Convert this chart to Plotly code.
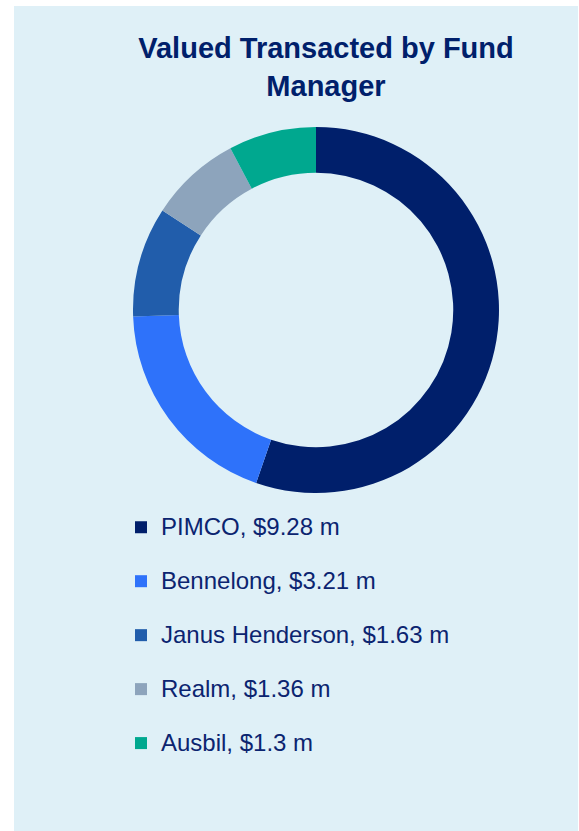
import plotly.graph_objects as go

# Data
managers = ["PIMCO", "Bennelong", "Janus Henderson", "Realm", "Ausbil"]
values_m = [9.28, 3.21, 1.63, 1.36, 1.3]
colors = ["#001F6B", "#2E72FA", "#215DAB", "#8DA4BC", "#00A88F"]
title_text = "Valued Transacted by Fund<br>Manager"

W, H = 579, 831
BG = "#DFF0F7"
NAVY = "#0B2470"

legend_labels = [
    f"<span style='font-size:24px'>{m}, ${v} m</span><br> "
    for m, v in zip(managers, values_m)
]

fig = go.Figure()
fig.add_trace(go.Pie(
    labels=legend_labels,
    values=values_m,
    marker=dict(colors=colors, line=dict(width=0)),
    hole=0.75,
    sort=False,
    direction="clockwise",
    rotation=0,
    textinfo="none",
    hoverinfo="label+value",
    domain=dict(x=[133 / W, 499 / W], y=[1 - 493 / H, 1 - 127 / H]),
))

fig.add_shape(type="rect", xref="paper", yref="paper",
              x0=14 / W, x1=578 / W, y0=0, y1=1 - 6 / H,
              fillcolor=BG, line=dict(width=0), layer="below")

fig.update_layout(
    width=W, height=H,
    margin=dict(l=0, r=0, t=0, b=0),
    paper_bgcolor="white",
    plot_bgcolor="white",
    font=dict(family="Liberation Sans, Arial, sans-serif", color=NAVY),
    title=dict(text=title_text, x=326 / W, xref="paper", xanchor="center",
               y=1 - 58 / H, yref="container", yanchor="top",
               font=dict(size=29, color="#00206B", weight="bold",
                         family="Liberation Sans, Arial, sans-serif")),
    showlegend=True,
    legend=dict(x=121 / W, xanchor="left", y=1 - 508 / H, yanchor="top",
                orientation="v", valign="top",
                font=dict(size=19.6, color=NAVY,
                          family="Liberation Sans, Arial, sans-serif"),
                bgcolor="rgba(0,0,0,0)", borderwidth=0,
                traceorder="normal"),
)

fig.write_html("out.html", config={"displayModeBar": False},
               post_script="document.body.style.margin='0';")
